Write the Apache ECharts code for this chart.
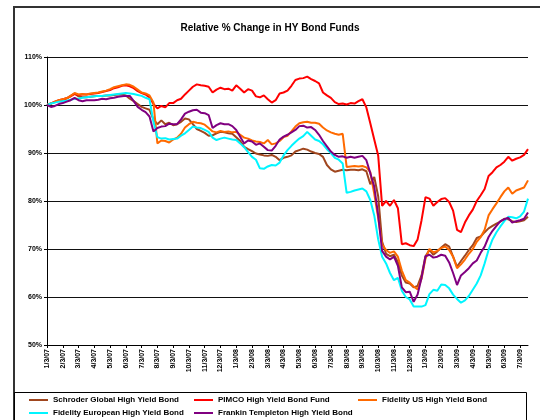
<!DOCTYPE html>
<html>
<head>
<meta charset="utf-8">
<script src="https://cdn.jsdelivr.net/npm/echarts@6/dist/echarts.min.js"></script>
<style>
    html, body { margin: 0; padding: 0; background: #fff; }
    #chart { width: 540px; height: 420px; }
</style>
</head>
<body>
<div id="chart"></div>
<script>
// one point every quarter month, starting 1/3/07
var step = 0.25;
var tickLabels = ["1/3/07", "2/3/07", "3/3/07", "4/3/07", "5/3/07", "6/3/07", "7/3/07", "8/3/07", "9/3/07",
    "10/3/07", "11/3/07", "12/3/07", "1/3/08", "2/3/08", "3/3/08", "4/3/08", "5/3/08", "6/3/08", "7/3/08",
    "8/3/08", "9/3/08", "10/3/08", "11/3/08", "12/3/08", "1/3/09", "2/3/09", "3/3/09", "4/3/09", "5/3/09",
    "6/3/09", "7/3/09"];
var names = ["Schroder Global High Yield Bond", "PIMCO High Yield Bond Fund", "Fidelity US High Yield Bond",
    "Fidelity European High Yield Bond", "Frankin Templeton High Yield Bond"];
var colors = ["#a0461e", "#ff0000", "#ff6a00", "#00f5ff", "#800080"];

var schroder = [100.0, 100.3, 100.6, 100.9, 101.1, 101.4, 101.9, 102.4, 101.8, 101.6,
    101.6, 101.7, 101.8, 101.9, 101.9, 102.0, 102.0, 102.1, 102.2, 102.2,
    102.0, 101.3, 100.8, 100.2, 99.6, 99.3, 99.0, 97.0, 96.0, 96.8,
    96.0, 96.3, 95.8, 96.0, 96.5, 97.2, 97.0, 96.0, 95.0, 94.6,
    94.2, 93.6, 93.7, 94.1, 94.4, 94.3, 94.1, 94.0, 93.3, 92.5,
    91.3, 90.8, 90.4, 89.9, 89.7, 89.5, 89.4, 89.6, 89.2, 88.5,
    89.0, 89.2, 89.5, 90.3, 90.6, 90.9, 90.7, 90.3, 90.0, 89.8,
    89.2, 87.5, 86.6, 86.1, 86.3, 86.5, 86.4, 86.5, 86.5, 86.4,
    86.6, 86.2, 83.5, 85.0, 81.0, 71.5, 69.0, 68.5, 68.8, 67.3,
    64.5, 63.0, 62.8, 62.0, 62.3, 64.5, 68.5, 69.8, 68.8, 69.5,
    70.3, 71.0, 70.5, 68.4, 66.3, 67.5, 68.6, 69.8, 70.8, 72.3,
    72.6, 73.5, 74.3, 74.8, 75.3, 75.7, 76.3, 76.2, 75.8, 75.6,
    75.8, 76.0, 76.7];
var pimco = [100.0, 100.3, 100.7, 101.0, 101.2, 101.4, 101.8, 102.3, 102.1, 102.2,
    102.2, 102.3, 102.4, 102.5, 102.7, 102.9, 103.1, 103.5, 103.7, 104.0,
    104.1, 103.9, 103.5, 102.9, 102.5, 102.2, 101.6, 100.2, 99.3, 99.8,
    99.5, 100.4, 100.4, 101.0, 101.3, 102.2, 103.0, 103.8, 104.3, 104.1,
    104.0, 103.8, 102.6, 103.2, 103.6, 103.3, 103.4, 103.0, 104.1, 103.4,
    102.6, 103.3, 103.0, 101.8, 101.6, 102.0, 101.2, 100.5, 101.0, 102.4,
    102.6, 103.0, 104.0, 105.2, 105.5, 105.6, 105.9, 105.4, 105.0, 104.5,
    102.6, 102.0, 101.5, 100.6, 100.2, 100.3, 100.1, 100.4, 100.3, 100.8,
    101.2, 99.5, 96.2, 92.8, 89.5, 79.0, 80.0, 79.0, 80.2, 78.5,
    71.0, 71.2, 70.8, 70.6, 72.0, 76.0, 80.8, 80.5, 79.0, 79.8,
    80.4, 80.6, 79.8, 78.0, 74.0, 73.5, 75.5, 77.0, 78.2, 80.0,
    81.2, 82.5, 85.2, 86.0, 87.0, 87.5, 88.2, 89.2, 88.4, 88.8,
    89.1, 89.6, 90.8];
var fidelityUS = [100.0, 100.3, 100.7, 101.0, 101.2, 101.4, 101.9, 102.5, 102.2, 102.3,
    102.2, 102.4, 102.5, 102.6, 102.8, 103.0, 103.3, 103.7, 103.9, 104.1,
    104.3, 104.2, 103.8, 103.2, 102.6, 102.4, 102.0, 100.5, 92.0, 92.6,
    92.5, 92.2, 92.8, 93.2, 94.0, 95.3, 96.0, 96.5, 96.3, 96.2,
    95.9, 95.2, 94.5, 94.3, 94.6, 94.4, 94.5, 94.3, 94.4, 93.8,
    93.2, 93.0, 92.6, 92.4, 92.3, 92.0, 92.7, 91.8, 92.0, 92.5,
    93.3, 93.6, 94.5, 95.5, 96.2, 96.4, 96.5, 96.3, 96.3, 96.1,
    95.3, 94.7, 94.3, 94.0, 93.8, 94.0, 87.1, 87.2, 87.3, 87.2,
    87.3, 87.0, 86.0, 81.5, 76.5, 71.0, 69.8, 69.2, 69.5, 68.4,
    65.5, 63.5, 63.0, 62.2, 61.6, 63.8, 68.0, 70.0, 69.3, 69.6,
    70.2, 70.5, 69.8, 68.4, 66.0, 66.8, 67.8, 69.0, 70.0, 71.5,
    72.5, 74.0, 77.0, 78.3, 79.5, 80.8, 82.0, 82.8, 81.5, 82.2,
    82.5, 82.8, 84.3];
var fidelityEU = [100.0, 100.3, 100.5, 100.7, 100.8, 100.9, 101.1, 101.3, 101.3, 101.5,
    101.6, 101.7, 101.8, 101.9, 101.9, 102.0, 102.1, 102.2, 102.3, 102.4,
    102.5, 102.4, 102.3, 102.1, 101.9, 101.5, 101.2, 96.5, 93.3, 93.0,
    93.1, 92.8, 92.9, 93.0, 93.6, 94.1, 94.8, 95.5, 95.3, 95.2,
    94.8, 94.4, 93.2, 92.7, 93.0, 93.2, 93.0, 92.8, 92.7, 92.0,
    91.2, 90.2, 89.2, 88.6, 86.8, 86.7, 87.2, 87.5, 87.4, 88.0,
    89.5, 90.6, 91.5, 92.3, 93.0, 93.5, 94.4, 93.6, 92.8, 92.5,
    91.8, 90.8, 90.0, 89.0, 88.6, 87.8, 81.7, 81.9, 82.2, 82.4,
    82.6, 82.0, 80.2, 77.0, 72.0, 68.4, 67.0, 65.0, 63.5, 64.0,
    61.3, 60.0, 59.5, 58.0, 58.0, 58.0, 58.3, 60.6, 61.5, 61.3,
    62.6, 62.5, 61.8, 60.5, 59.6, 58.8, 59.3, 60.2, 61.5, 62.8,
    64.5, 67.0, 69.8, 72.0, 73.5, 74.7, 75.8, 76.7, 76.6, 76.4,
    76.8, 77.8, 80.5];
var franklin = [100.0, 99.6, 99.8, 100.2, 100.4, 100.7, 101.0, 101.5, 101.0, 100.8,
    101.0, 101.0, 101.0, 101.1, 101.3, 101.2, 101.4, 101.5, 101.7, 101.8,
    101.9, 101.9, 100.8, 99.6, 99.0, 98.5, 97.6, 94.5, 95.2, 95.5,
    95.6, 96.1, 96.0, 96.0, 97.0, 98.2, 98.6, 98.9, 99.0, 98.4,
    98.3, 97.9, 95.2, 95.8, 96.2, 96.0, 96.0, 95.6, 94.8, 93.4,
    92.0, 92.6, 92.4, 91.7, 92.0, 91.3, 90.6, 90.5, 91.5, 92.8,
    93.4, 93.8, 94.3, 94.8, 95.6, 95.7, 95.3, 95.4, 94.8, 93.8,
    92.5, 91.4, 90.3, 89.6, 89.2, 89.3, 89.0, 89.2, 89.0, 89.2,
    89.4, 88.5, 85.8, 83.0, 77.0, 69.6, 68.4, 67.8, 68.4, 66.5,
    62.0, 61.0, 61.1, 59.0, 60.5, 64.0, 68.5, 68.8, 68.2, 68.4,
    68.8, 68.6, 67.2, 65.0, 62.5, 64.5, 65.2, 66.0, 67.0, 67.6,
    69.2, 70.5, 72.5, 73.8, 74.8, 75.8, 76.2, 76.5, 75.5, 75.8,
    76.0, 76.3, 77.6];

var allValues = [schroder, pimco, fidelityUS, fidelityEU, franklin];
var font = "'Liberation Sans', Arial, sans-serif";

function pairs(vals) {
    return vals.map(function (v, i) {
        return [i * step, v];
    });
}

var series = [];
var legends = [];
var legendPos = [[29, 396], [194, 396], [358, 396], [29, 409], [194, 409]];
for (var k = 0; k < names.length; k++) {
    series.push({
        name: names[k],
        type: "line",
        data: pairs(allValues[k]),
        showSymbol: false,
        symbol: "none",
        lineStyle: { color: colors[k], width: 2 },
        itemStyle: { color: colors[k] },
        animation: false
    });
    legends.push({
        data: [names[k]],
        left: legendPos[k][0],
        top: legendPos[k][1],
        icon: "rect",
        itemWidth: 19,
        itemHeight: 2,
        selectedMode: false,
        padding: 0,
        textStyle: { fontFamily: font, fontSize: 8, fontWeight: "bold", color: "#000" }
    });
}

var myChart = echarts.init(document.getElementById("chart"));
var option = {
    backgroundColor: "#fff",
    animation: false,
    title: {
        text: "Relative % Change in HY Bond Funds",
        left: "center",
        top: 18,
        textStyle: { fontFamily: font, fontSize: 10, fontWeight: "bold", color: "#000" }
    },
    legend: legends,
    grid: { left: 47, right: 12, top: 57, bottom: 75 },
    xAxis: {
        type: "value",
        min: 0,
        max: 30.5,
        interval: 1,
        splitLine: { show: false },
        axisLine: { lineStyle: { color: "#000", width: 1 } },
        axisTick: { inside: false, length: 3, lineStyle: { color: "#000" } },
        axisLabel: {
            rotate: 90,
            margin: 4,
            showMaxLabel: false,
            fontFamily: font,
            fontSize: 7,
            fontWeight: "bold",
            color: "#000",
            formatter: function (v) {
                return tickLabels[v] || "";
            }
        }
    },
    yAxis: {
        type: "value",
        min: 50,
        max: 110,
        interval: 10,
        axisLine: { show: true, lineStyle: { color: "#000", width: 1 } },
        axisTick: { show: true, inside: false, length: 3, lineStyle: { color: "#000" } },
        splitLine: { lineStyle: { color: "#111", width: 1 } },
        axisLabel: {
            margin: 5,
            fontFamily: font,
            fontSize: 7,
            fontWeight: "bold",
            color: "#000",
            formatter: "{value}%"
        }
    },
    graphic: [
        {
            type: "rect",
            shape: { x: 14, y: 7, width: 600, height: 500 },
            style: { fill: null, stroke: "#333", lineWidth: 2 },
            silent: true
        },
        {
            type: "rect",
            shape: { x: 14.5, y: 392.5, width: 512, height: 40 },
            style: { fill: null, stroke: "#000", lineWidth: 1 },
            silent: true
        }
    ],
    series: series
};
myChart.setOption(option);
</script>
</body>
</html>
